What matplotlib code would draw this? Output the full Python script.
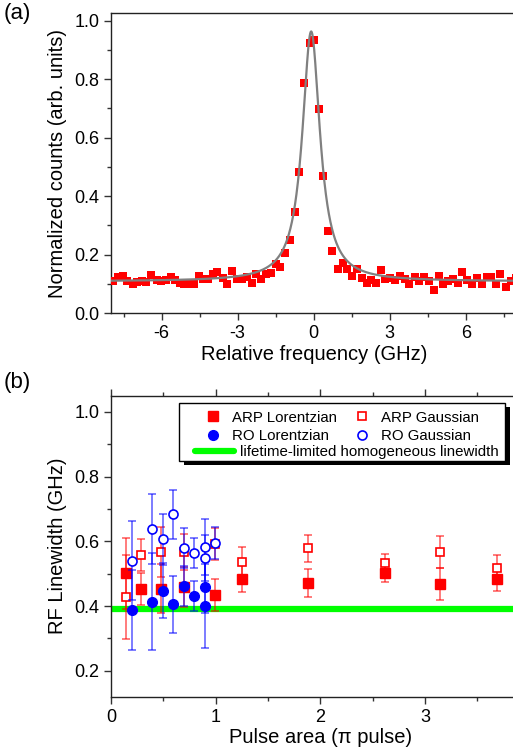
import numpy as np
import matplotlib
matplotlib.use("Agg")
import matplotlib.pyplot as plt
from matplotlib.patches import Rectangle
from matplotlib.ticker import MultipleLocator, FixedLocator

plt.rcParams['font.family'] = ['Liberation Sans', 'DejaVu Sans']
plt.rcParams['axes.unicode_minus'] = False

# ---- panel (a): spectrum ----
freq = [-7.91, -7.73, -7.54, -7.36, -7.15, -6.97, -6.78, -6.60, -6.41, -6.20,
        -6.02, -5.84, -5.65, -5.47, -5.28, -5.10, -4.90, -4.73, -4.54, -4.36,
        -4.17, -3.99, -3.80, -3.59, -3.41, -3.23, -3.04, -2.83, -2.65, -2.45,
        -2.28, -2.09, -1.90, -1.70, -1.50, -1.33, -1.13, -0.94, -0.75, -0.57,
        -0.38, -0.15, 0.01, 0.19, 0.38, 0.56, 0.74, 0.95, 1.14, 1.33,
        1.51, 1.70, 1.90, 2.09, 2.27, 2.46, 2.64, 2.83, 3.01, 3.22,
        3.40, 3.59, 3.77, 3.98, 4.16, 4.35, 4.56, 4.74, 4.93, 5.11,
        5.30, 5.48, 5.69, 5.87, 6.06, 6.24, 6.43, 6.64, 6.82, 7.00,
        7.19, 7.37, 7.58, 7.79, 7.98]
counts = [0.110, 0.122, 0.127, 0.108, 0.099, 0.107, 0.110, 0.107, 0.130, 0.112,
          0.110, 0.112, 0.122, 0.112, 0.104, 0.099, 0.099, 0.099, 0.127, 0.117,
          0.117, 0.133, 0.141, 0.120, 0.099, 0.145, 0.117, 0.117, 0.122, 0.104,
          0.133, 0.117, 0.133, 0.136, 0.168, 0.158, 0.206, 0.250, 0.344, 0.483,
          0.786, 0.925, 0.932, 0.697, 0.470, 0.279, 0.213, 0.152, 0.170, 0.152,
          0.127, 0.152, 0.120, 0.104, 0.112, 0.104, 0.147, 0.117, 0.120, 0.112,
          0.127, 0.117, 0.099, 0.124, 0.110, 0.122, 0.110, 0.079, 0.127, 0.099,
          0.110, 0.117, 0.104, 0.139, 0.112, 0.099, 0.120, 0.099, 0.124, 0.122,
          0.099, 0.133, 0.088, 0.110, 0.118]

# Lorentzian fit parameters
fit_x0 = -0.10
fit_fwhm = 0.85
fit_amp = 0.855
fit_y0 = 0.108

# ---- panel (b): linewidths ----
arp_x = [0.143, 0.29, 0.475, 0.697, 0.994, 1.255, 1.88, 2.62, 3.14, 3.69]
arp_lor = [0.501, 0.452, 0.454, 0.458, 0.434, 0.484, 0.472, 0.501, 0.468, 0.484]
arp_lor_err = [0.11, 0.05, 0.075, 0.062, 0.05, 0.042, 0.044, 0.026, 0.05, 0.038]
arp_gau = [0.429, 0.558, 0.568, 0.568, 0.592, 0.536, 0.578, 0.532, 0.567, 0.519]
arp_gau_err = [0.13, 0.05, 0.077, 0.055, 0.05, 0.045, 0.042, 0.028, 0.05, 0.04]

ro_x = [0.197, 0.395, 0.494, 0.596, 0.697, 0.796, 0.898, 0.898]
ro_lor = [0.388, 0.414, 0.448, 0.406, 0.462, 0.432, 0.458, 0.401]
ro_lor_err = [0.125, 0.15, 0.084, 0.088, 0.062, 0.047, 0.08, 0.13]
ro_gx = [0.197, 0.395, 0.494, 0.596, 0.697, 0.796, 0.898, 0.898, 0.994]
ro_gau = [0.540, 0.638, 0.606, 0.683, 0.579, 0.563, 0.583, 0.549, 0.594]
ro_gau_err = [0.122, 0.107, 0.078, 0.077, 0.062, 0.046, 0.087, 0.07, 0.05]

lifetime_lw = 0.39

W, H = 513, 748
fig = plt.figure(figsize=(W / 100, H / 100), dpi=100)

# ---------------- (a) ----------------
ax1 = fig.add_axes([111 / W, 1 - 313 / H, 405.4 / W, 299.7 / H])
ax1.plot(freq, counts, 's', color='#ff0000', ms=5.2, mew=0, zorder=3)
xf = np.linspace(-8, 8, 801)
yf = fit_y0 + fit_amp * (fit_fwhm / 2) ** 2 / ((xf - fit_x0) ** 2 + (fit_fwhm / 2) ** 2)
ax1.plot(xf, yf, color='#808080', lw=1.6, zorder=4)
ax1.set_xlim(-8, 8)
ax1.set_ylim(0, 1.025)
ax1.xaxis.set_major_locator(MultipleLocator(3))
ax1.xaxis.set_minor_locator(MultipleLocator(1.5))
ax1.yaxis.set_major_locator(MultipleLocator(0.2))
ax1.yaxis.set_minor_locator(MultipleLocator(0.1))
ax1.set_xlabel("Relative frequency (GHz)", fontsize=14.5, labelpad=2)
ax1.set_ylabel("Normalized counts (arb. units)", fontsize=14.5, labelpad=5)

# ---------------- (b) ----------------
ax2 = fig.add_axes([111 / W, 1 - 696.7 / H, 418.8 / W, 301 / H])
ax2.axhline(lifetime_lw, color='#00ff00', lw=4.5, zorder=1)
ekw = dict(capsize=3, elinewidth=1.2, capthick=1.2, ls='none')
ax2.errorbar(arp_x, arp_gau, yerr=arp_gau_err, ecolor=(1, 0, 0, 0.6), marker='s',
             mfc='white', mec='#ff0000', mew=1.2, ms=6, zorder=3, **ekw)
ax2.errorbar(arp_x, arp_lor, yerr=arp_lor_err, ecolor=(1, 0, 0, 0.6), marker='s',
             mfc='#ff0000', mec='#ff0000', ms=6.5, zorder=3, **ekw)
ax2.errorbar(ro_gx, ro_gau, yerr=ro_gau_err, ecolor=(0, 0, 1, 0.6), marker='o',
             mfc='white', mec='#0000ff', mew=1.2, ms=6.5, zorder=4, **ekw)
ax2.errorbar(ro_x, ro_lor, yerr=ro_lor_err, ecolor=(0, 0, 1, 0.6), marker='o',
             mfc='#0000ff', mec='#0000ff', ms=7, zorder=4, **ekw)
ax2.set_xlim(0, 4)
ax2.set_ylim(0.12, 1.05)
ax2.xaxis.set_major_locator(FixedLocator([0, 1, 2, 3]))
ax2.xaxis.set_minor_locator(FixedLocator([0.5, 1.5, 2.5, 3.5]))
ax2.yaxis.set_major_locator(MultipleLocator(0.2))
ax2.yaxis.set_minor_locator(MultipleLocator(0.1))
ax2.set_xlabel("Pulse area (\u03c0 pulse)", fontsize=14.5, labelpad=2)
ax2.set_ylabel("RF Linewidth (GHz)", fontsize=14.5, labelpad=5)

# legend: shadowed box + two frameless legends
ax2.add_patch(Rectangle((0.174, 0.770), 0.779, 0.194, transform=ax2.transAxes,
                        facecolor='black', edgecolor='none', zorder=5))
ax2.add_patch(Rectangle((0.1624, 0.783), 0.779, 0.194, transform=ax2.transAxes,
                        facecolor='white', edgecolor='black', lw=1, zorder=6))
h_al = plt.Line2D([], [], ls='none', marker='s', ms=6.5, color='#ff0000')
h_ag = plt.Line2D([], [], ls='none', marker='s', ms=6, mfc='white', mec='#ff0000', mew=1.2)
h_rl = plt.Line2D([], [], ls='none', marker='o', ms=7, color='#0000ff')
h_rg = plt.Line2D([], [], ls='none', marker='o', ms=6.5, mfc='white', mec='#0000ff', mew=1.2)
leg1 = ax2.legend([h_al, h_rl, h_ag, h_rg],
                  ["ARP Lorentzian", "RO Lorentzian", "ARP Gaussian", "RO Gaussian"],
                  ncol=2, frameon=False, fontsize=10.8, loc='upper left',
                  bbox_to_anchor=(0.19, 0.985), handlelength=1.6, handletextpad=0.45,
                  columnspacing=0.9, labelspacing=0.3, borderpad=0.2)
leg1.set_zorder(7)
ax2.add_artist(leg1)
h_g = plt.Line2D([], [], color='#00ff00', lw=4.5, solid_capstyle='round')
leg2 = ax2.legend([h_g], ["lifetime-limited homogeneous linewidth"], frameon=False,
                  fontsize=10.8, loc='upper left', bbox_to_anchor=(0.175, 0.87),
                  handlelength=2.6, handletextpad=0.4, borderpad=0.2)
leg2.set_zorder(7)

for ax in (ax1, ax2):
    ax.tick_params(which='major', direction='out', length=5, width=1, labelsize=13,
                   color='#333333')
    ax.tick_params(which='minor', direction='out', length=3, width=1, color='#333333')
    for s in ax.spines.values():
        s.set_color('#222222')
        s.set_linewidth(1.0)
ax2.tick_params(which='both', top=True)

fig.text(4 / W, 1 - 3 / H, "(a)", fontsize=16, va='top', ha='left')
fig.text(4 / W, 1 - 372 / H, "(b)", fontsize=16, va='top', ha='left')

fig.savefig("out.png", dpi=100)
